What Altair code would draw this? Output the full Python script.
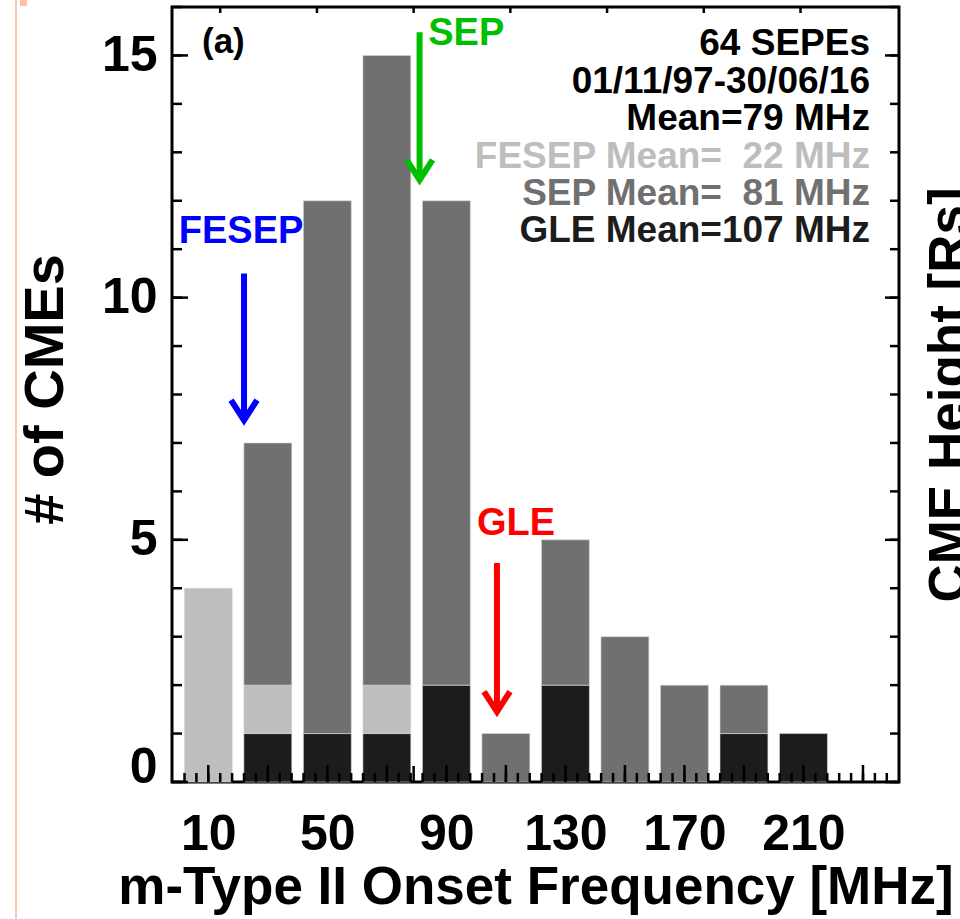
import altair as alt
import pandas as pd

# ---- histogram of m-type II onset frequency (20 MHz bins) ----
bin_center = [10, 30, 50, 70, 90, 110, 130, 150, 170, 190, 210]
n_total = [4, 7, 12, 15, 12, 1, 5, 3, 2, 2, 1]
n_fesep = [4, 1, 0, 1, 0, 0, 0, 0, 0, 0, 0]
n_gle = [0, 1, 1, 1, 2, 0, 2, 0, 0, 1, 1]

# class means [MHz]
mean_all = 79
mean_fesep = 22
mean_sep = 81
mean_gle = 107

# secondary tick marks along the top edge [MHz]
top_ticks = [14, 46.5, 79, 111.5, 144, 176.5, 209]

x_labels = [10, 50, 90, 130, 170, 210]
y_labels = [0, 5, 10, 15]

info_lines = ["64 SEPEs", "01/11/97-30/06/16", f"Mean={mean_all} MHz",
              f"FESEP Mean=\u00a0\u00a0{mean_fesep} MHz",
              f"SEP Mean=\u00a0\u00a0{mean_sep} MHz",
              f"GLE Mean={mean_gle} MHz"]

LIGHT, MID, DARK = "#BEBEBE", "#707070", "#1C1C1C"
FONT = "Liberation Sans"
HALF = 8.05

x_scale = alt.Scale(domain=[-2.2, 242.1], nice=False, zero=False)
y_scale = alt.Scale(domain=[0, 16], nice=False, zero=False)

# one axis definition per channel, shared by every layer so they merge cleanly
x_axis = alt.Axis(values=x_labels, ticks=False, tickSize=0, domain=False, grid=False,
                  labelFont=FONT, labelFontSize=50, labelFontWeight="bold",
                  labelColor="black", labelPadding=27, labelBaseline="top",
                  labelFlush=False, title="m-Type II Onset Frequency [MHz]",
                  titleFont=FONT, titleFontSize=53, titleFontWeight="bold",
                  titleColor="black", titleBaseline="alphabetic",
                  titleX=363.5, titleY=121)
y_axis = alt.Axis(values=y_labels, ticks=False, tickSize=0, domain=False, grid=False,
                  labelFont=FONT, labelFontSize=50, labelFontWeight="bold",
                  labelColor="black", labelPadding=15,
                  labelBaseline=alt.condition("datum.value == 0",
                                              alt.value("alphabetic"),
                                              alt.value("middle")),
                  title="# of CMEs", titleFont=FONT, titleFontSize=56,
                  titleFontWeight="bold", titleColor="black", titleAngle=270,
                  titleAlign="center", titleBaseline="alphabetic",
                  titleX=-110, titleY=382)


def X(field):
    return alt.X(field, scale=x_scale, axis=x_axis)


def Y(field):
    return alt.Y(field, scale=y_scale, axis=y_axis)


# stacked segments: GLE at the bottom, FESEP above it, the rest (SEP) on top
rows = []
for c, tot, fe, gl in zip(bin_center, n_total, n_fesep, n_gle):
    segs = [(0, gl, "GLE"), (gl, gl + fe, "FESEP"), (gl + fe, tot, "SEP")]
    for lo, hi, cls in segs:
        if hi > lo:
            rows.append({"x0": c - HALF, "x1": c + HALF, "y0": lo, "y1": hi, "cls": cls})
bars_df = pd.DataFrame(rows)

bars = alt.Chart(bars_df).mark_rect(stroke="#DADADA", strokeWidth=0.6).encode(
    x=X("x0:Q"), x2="x1:Q",
    y=Y("y0:Q"), y2="y1:Q",
    color=alt.Color("cls:N", scale=alt.Scale(domain=["FESEP", "SEP", "GLE"],
                                             range=[LIGHT, MID, DARK]), legend=None),
)

# ---- inward tick marks on all four sides ----
y_all = pd.DataFrame({"y0": list(range(0, 17))})
y_major = pd.DataFrame({"y0": y_labels})
x_minor = pd.DataFrame({"x0": list(range(2, 242, 4))})
x_major = pd.DataFrame({"x0": list(range(10, 240, 20))})


def yticks(df, a, b):
    return alt.Chart(df).mark_rule(color="black", strokeWidth=2.5).encode(
        y=Y("y0:Q"), x=alt.value(a), x2=alt.value(b))


def xticks(df, a, b):
    return alt.Chart(df).mark_rule(color="black", strokeWidth=2.5).encode(
        x=X("x0:Q"), y=alt.value(a), y2=alt.value(b))


ticks = [
    yticks(y_all, 0, 10), yticks(y_major, 0, 16),
    yticks(y_all, 727, 718), yticks(y_major, 727, 713),
    xticks(x_minor, 775, 766), xticks(x_major, 775, 758),
    xticks(pd.DataFrame({"x0": [mean_all]}), 775, 759),
    xticks(pd.DataFrame({"x0": top_ticks}), 0, 6),
]

# ---- mean-value arrows ----
arrows_df = pd.DataFrame({
    "label": ["FESEP", "SEP", "GLE"],
    "x0": [mean_fesep, mean_sep, mean_gle],
    "y0": [10.5, 15.48, 4.52],
    "tip": [7.47, 12.43, 1.45],
    "lx": [21, 83.9, 113.4],
    "ly": [11.13, 15.21, 5.1],
    "align": ["center", "left", "center"],
    "col": ["#0000FF", "#00BE00", "#FF0000"],
})

shaft = alt.Chart(arrows_df).mark_rule(strokeWidth=6).encode(
    x=X("x0:Q"), y=Y("y0:Q"), y2="tip:Q",
    color=alt.Color("col:N", scale=None))

head = alt.Chart(arrows_df).mark_point(
    shape="M -1 -1.55 L 0 0 L 1 -1.55", filled=False, strokeWidth=6, size=676,
    opacity=1, strokeJoin="miter").encode(
    x=X("x0:Q"), y=Y("tip:Q"),
    color=alt.Color("col:N", scale=None))

arrow_labels = []
for align in ["center", "left"]:
    arrow_labels.append(
        alt.Chart(arrows_df[arrows_df["align"] == align]).mark_text(
            font=FONT, fontSize=38, fontWeight="bold", align=align,
            baseline="alphabetic").encode(
            x=X("lx:Q"), y=Y("ly:Q"),
            text="label:N", color=alt.Color("col:N", scale=None)))

# ---- summary text, right-aligned in the upper right ----
info_df = pd.DataFrame({
    "t": info_lines,
    "y0": [15.0 - 0.772 * i for i in range(len(info_lines))],
    "col": ["black", "black", "black", LIGHT, MID, DARK],
})
info = alt.Chart(info_df).mark_text(
    font=FONT, fontSize=37, fontWeight="bold", align="right",
    baseline="alphabetic").encode(
    x=alt.value(870 - 172), y=Y("y0:Q"),
    text="t:N", color=alt.Color("col:N", scale=None))

panel = alt.Chart(pd.DataFrame({"t": ["(a)"]})).mark_text(
    font=FONT, fontSize=35, fontWeight="bold", align="left",
    baseline="alphabetic", color="black").encode(
    x=alt.value(202 - 172), y=alt.value(53 - 7), text="t:N")

# axis title of the neighbouring panel, cut by the right edge
neighbour = alt.Chart(pd.DataFrame({"t": ["CME Height [Rs]"]})).mark_text(
    font=FONT, fontSize=53, fontWeight="bold", align="center", angle=270,
    baseline="alphabetic", color="black").encode(
    x=alt.value(966 - 172), y=alt.value(395 - 7), text="t:N")

# page edge line on the far left
edge = alt.Chart(pd.DataFrame({"a": [0]})).mark_rule(
    color="#FFC6B4", strokeWidth=2).encode(
    x=alt.value(16 - 172), y=alt.value(-7), y2=alt.value(919))
edge_mark = alt.Chart(pd.DataFrame({"a": [0]})).mark_rect(color="#FFC0A8").encode(
    x=alt.value(20 - 172), x2=alt.value(27 - 172), y=alt.value(-7), y2=alt.value(-1))

chart = alt.layer(
    bars, *ticks, shaft, head, *arrow_labels, info, panel, neighbour, edge, edge_mark
).properties(
    width=727, height=775,
    padding={"left": 172, "top": 7, "right": 61, "bottom": 137},
    autosize=alt.AutoSizeParams(type="none"),
    background="white",
).configure_view(stroke="black", strokeWidth=3)

chart.save("out.html", embed_options={"renderer": "svg", "actions": False})
